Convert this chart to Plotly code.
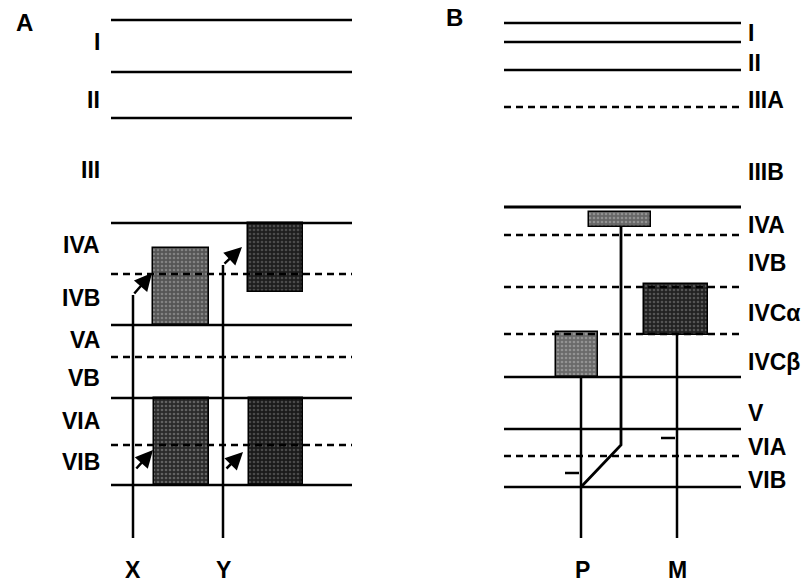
import plotly.graph_objects as go

# ---------------- data (depth units, top = 0) ----------------
A_bounds = [20, 72, 118, 223, 274, 325, 357, 398, 445, 485]
A_dashed = [0, 0, 0, 0, 1, 0, 1, 0, 1, 0]
A_span = [111, 352]
A_labels = ["I", "II", "III", "IVA", "IVB", "VA", "VB", "VIA", "VIB"]
A_label_y = [42, 100, 170, 245, 298, 340, 378, 421, 462]

B_bounds = [23, 42, 70, 107, 207, 235, 287, 334, 377, 429, 456, 487]
B_dashed = [0, 0, 0, 1, 0, 1, 1, 1, 0, 0, 1, 0]
B_span = [504, 741]
B_labels = ["I", "II", "IIIA", "IIIB", "IVA", "IVB", "IVCα", "IVCβ", "V", "VIA", "VIB"]
B_label_y = [33, 63, 100, 172, 225, 263, 313, 362, 413, 447, 480]

# boxes: left, right, top, bottom, tone
A_boxes_l = [153, 248, 154, 249]
A_boxes_r = [209, 303, 209, 303]
A_boxes_t = [248, 223, 398, 398]
A_boxes_b = [325, 292, 485, 485]
A_tone = ["#555555", "#1e1e1e", "#2a2a2a", "#1a1a1a"]
A_fg = ["#b0b0b0", "#7a7a7a", "#999999", "#7a7a7a"]

B_boxes_l = [589, 644, 556]
B_boxes_r = [651, 708, 598]
B_boxes_t = [212, 284, 332]
B_boxes_b = [227, 335, 377]
B_tone = ["#666666", "#222222", "#6a6a6a"]
B_fg = ["#bbbbbb", "#888888", "#bbbbbb"]

# projection lines
A_axon_x = [133, 223]
A_axon_top = [295, 265]
A_axon_bot = 538
A_arrow_up_to = [(152, 273), (242, 247)]
A_arrow_low_from = [(135, 470), (225, 470)]
A_arrow_low_to = [(153, 450), (243, 452)]
A_names = ["X", "Y"]

B_P_x, B_P_top = 581, 377
B_M_x, B_M_top = 677, 335
B_mid_path_x = [621, 621, 581]
B_mid_path_y = [227, 445, 487]
B_axon_bot = 538
B_ticks = [((661, 675), 438), ((565, 579), 473)]
B_names = ["P", "M"]
B_name_x = [582, 677]
name_y = 570

FONT = "Arial, Liberation Sans, sans-serif"

fig = go.Figure()

def hline(x0, x1, y, dashed, w=2.5):
    fig.add_trace(go.Scatter(x=[x0, x1], y=[y, y], mode="lines",
                             line=dict(color="black", width=w,
                                       dash="7px,5px" if dashed else "solid"),
                             hoverinfo="skip", showlegend=False))

def vline(x, y0, y1, w=2.5):
    fig.add_trace(go.Scatter(x=[x, x], y=[y0, y1], mode="lines",
                             line=dict(color="black", width=w),
                             hoverinfo="skip", showlegend=False))

def box(l, r, t, b, tone, fg):
    fig.add_trace(go.Bar(x=[(l + r) / 2], y=[b - t], base=[t], width=[r - l],
                         marker=dict(color=tone,
                                     line=dict(color="black", width=1.5),
                                     pattern=dict(shape=".", fgcolor=fg, bgcolor=tone,
                                                  size=4, solidity=0.35)),
                         hoverinfo="skip", showlegend=False))

# Panel A
for yb, d in zip(A_bounds, A_dashed):
    hline(A_span[0], A_span[1], yb, d)
for i in range(len(A_boxes_l)):
    box(A_boxes_l[i], A_boxes_r[i], A_boxes_t[i], A_boxes_b[i], A_tone[i], A_fg[i])
for x, t in zip(A_axon_x, A_axon_top):
    vline(x, t, A_axon_bot)

# Panel B
for yb, d in zip(B_bounds, B_dashed):
    hline(B_span[0], B_span[1], yb, d, w=3.2 if yb == 207 else 2.5)
for i in range(len(B_boxes_l)):
    box(B_boxes_l[i], B_boxes_r[i], B_boxes_t[i], B_boxes_b[i], B_tone[i], B_fg[i])
vline(B_P_x, B_P_top, B_axon_bot)
vline(B_M_x, B_M_top, B_axon_bot)
fig.add_trace(go.Scatter(x=B_mid_path_x, y=B_mid_path_y, mode="lines",
                         line=dict(color="black", width=2.8),
                         hoverinfo="skip", showlegend=False))
for (tx0, tx1), ty in B_ticks:
    fig.add_trace(go.Scatter(x=[tx0, tx1], y=[ty, ty], mode="lines",
                             line=dict(color="black", width=2.5),
                             hoverinfo="skip", showlegend=False))

ann = []
# arrows in panel A
for x, t, (ux, uy) in zip(A_axon_x, A_axon_top, A_arrow_up_to):
    ann.append(dict(x=ux, y=uy, ax=x, ay=t, xref="x", yref="y", axref="x", ayref="y",
                    showarrow=True, arrowhead=2, arrowsize=1.4, arrowwidth=2.5,
                    arrowcolor="black", text=""))
for (fx, fy), (tx, ty) in zip(A_arrow_low_from, A_arrow_low_to):
    ann.append(dict(x=tx, y=ty, ax=fx, ay=fy, xref="x", yref="y", axref="x", ayref="y",
                    showarrow=True, arrowhead=2, arrowsize=1.4, arrowwidth=2.5,
                    arrowcolor="black", text=""))

def label(x, y, txt, anchor, size=23):
    ann.append(dict(x=x, y=y, xref="x", yref="y", text="<b>" + txt + "</b>",
                    showarrow=False, xanchor=anchor, yanchor="middle",
                    font=dict(family=FONT, size=size, color="black")))

for t, y in zip(A_labels, A_label_y):
    label(102, y, t, "right")
for t, y in zip(B_labels, B_label_y):
    label(746, y, t, "left")
for t, x in zip(A_names, A_axon_x):
    label(x, name_y, t, "center")
for t, x in zip(B_names, B_name_x):
    label(x, name_y, t, "center")
label(24, 22, "A", "center", 24)
label(454, 17, "B", "center", 24)

fig.update_layout(
    width=810, height=584,
    margin=dict(l=0, r=0, t=0, b=0),
    paper_bgcolor="white", plot_bgcolor="white",
    barmode="overlay", bargap=0,
    xaxis=dict(range=[0, 810], visible=False, fixedrange=True),
    yaxis=dict(range=[584, 0], visible=False, fixedrange=True),
    annotations=ann,
    showlegend=False,
)

fig.write_html("out.html", config={"displayModeBar": False},
               post_script="document.body.style.margin='0';document.body.style.overflow='hidden';")
